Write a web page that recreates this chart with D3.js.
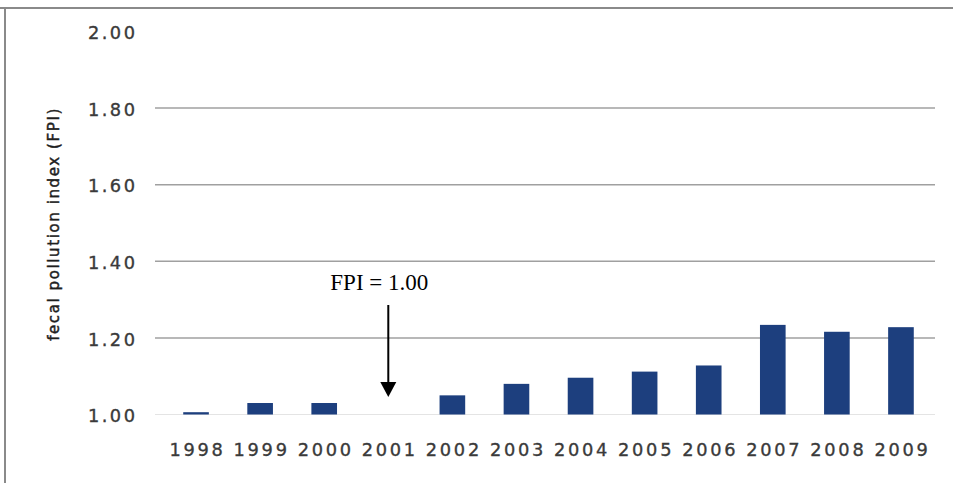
<!DOCTYPE html>
<html><head><meta charset="utf-8">
<script src="https://cdn.jsdelivr.net/npm/d3@7"></script>
<style>html,body{margin:0;padding:0;background:#fff;}svg{display:block;}</style>
</head><body>
<script>
const years = ["1998","1999","2000","2001","2002","2003","2004","2005","2006","2007","2008","2009"];
const fpi = [1.006, 1.03, 1.03, 1.00, 1.05, 1.08, 1.096, 1.112, 1.128, 1.234, 1.216, 1.228];
const yTicks = [1.00, 1.20, 1.40, 1.60, 1.80, 2.00];
const yLabel = "fecal pollution index (FPI)";
const annotation = "FPI = 1.00";
const annotatedYear = "2001";

const W = 953, H = 483;
const svg = d3.select("body").append("svg").attr("width", W).attr("height", H);

// frame
svg.append("line").attr("x1",0).attr("x2",W).attr("y1",8).attr("y2",8).attr("stroke","#8a8a8a").attr("stroke-width",2);
svg.append("line").attr("x1",5).attr("x2",5).attr("y1",7).attr("y2",H).attr("stroke","#8a8a8a").attr("stroke-width",2);

const x = d3.scaleBand().domain(years).range([164, 933]).paddingInner(0.6).paddingOuter(0.3);
const y = d3.scaleLinear().domain([1, 2]).range([414.5, 31.5]);

// gridlines
svg.append("g").selectAll("line").data(yTicks.filter(t => t > 1 && t < 2)).join("line")
  .attr("x1",155).attr("x2",935)
  .attr("y1",d=>y(d)).attr("y2",d=>y(d))
  .attr("stroke","#a0a0a0").attr("stroke-width",1.5);

// faint baseline
svg.append("line").attr("x1",155).attr("x2",935).attr("y1",y(1)).attr("y2",y(1))
  .attr("stroke","#e4e4e4").attr("stroke-width",1);

// y axis labels
const yAxis = d3.axisLeft(y).tickValues(yTicks).tickFormat(d3.format(".2f")).tickSize(0).tickPadding(0);
const ga = svg.append("g").attr("transform","translate(137.5,0)").call(yAxis);
ga.select(".domain").remove();
ga.selectAll("text").attr("font-family","'DejaVu Sans', Verdana, sans-serif").attr("font-size","17.8px")
  .attr("fill","#3a3a3a").attr("stroke","#3a3a3a").attr("stroke-width",0.35)
  .style("letter-spacing","2.5px").attr("dy","0.4em");

// x axis labels
const xAxis = d3.axisBottom(x).tickSize(0).tickPadding(0);
const gx = svg.append("g").attr("transform","translate(1.5,443)").call(xAxis);
gx.select(".domain").remove();
gx.selectAll("text").attr("font-family","'DejaVu Sans', Verdana, sans-serif").attr("font-size","17.8px")
  .attr("fill","#3a3a3a").attr("stroke","#3a3a3a").attr("stroke-width",0.35)
  .style("letter-spacing","2.7px").attr("dy","0.73em");

// bars
svg.append("g").selectAll("rect").data(years.map((yr,i)=>({yr, v:fpi[i]}))).join("rect")
  .attr("x", d => x(d.yr)).attr("width", x.bandwidth())
  .attr("y", d => y(d.v)).attr("height", d => y(1) - y(d.v))
  .attr("fill", "#1d3f7e");

// y label
svg.append("text").attr("transform","translate(58.5,224) rotate(-90)")
  .attr("text-anchor","middle").attr("font-family","'DejaVu Sans', Tahoma, sans-serif")
  .attr("font-size","15px").attr("fill","#1e1e1e").attr("stroke","#1e1e1e").attr("stroke-width",0.45)
  .style("letter-spacing","1.6px")
  .text(yLabel);

// annotation
const ax = x(annotatedYear) + x.bandwidth()/2;
svg.append("text").attr("x", ax - 9).attr("y", 290).attr("text-anchor","middle")
  .attr("font-family","'Liberation Serif', 'Times New Roman', serif").attr("font-size","23px").attr("fill","#000")
  .text(annotation);
svg.append("line").attr("x1",ax).attr("x2",ax).attr("y1",305).attr("y2",385)
  .attr("stroke","#000").attr("stroke-width",2);
svg.append("path").attr("d", d3.line()([[ax-8,382],[ax+8,382],[ax,397]]) + "Z").attr("fill","#000");
</script>
</body></html>
